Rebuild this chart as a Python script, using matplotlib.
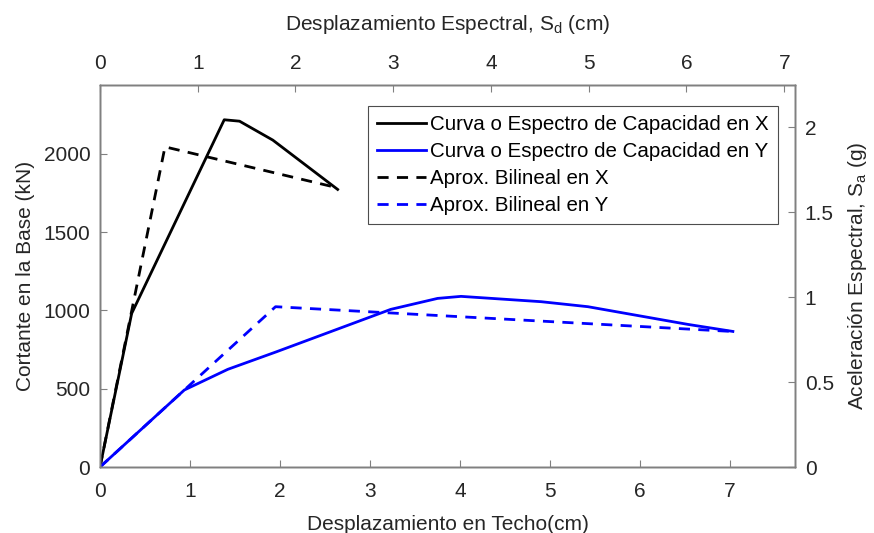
import matplotlib
matplotlib.use("Agg")
from matplotlib import pyplot as plt

plt.rcParams['font.family'] = ['Liberation Sans', 'DejaVu Sans']

# curva de capacidad en X
dx_cap = [0.0, 0.352, 1.38, 1.55, 1.92, 2.64]
vx_cap = [0.0, 981, 2218, 2209, 2088, 1773]
# aproximacion bilineal en X
dx_bil = [0.0, 0.722, 2.62]
vx_bil = [0.0, 2045, 1786]
# curva de capacidad en Y
dy_cap = [0.0, 0.937, 1.42, 1.96, 3.23, 3.75, 4.01, 4.9, 5.42, 5.94, 6.53, 7.03]
vy_cap = [0.0, 492, 624, 736, 1007, 1077, 1090, 1056, 1024, 971, 911, 866]
# aproximacion bilineal en Y
dy_bil = [0.0, 0.937, 1.95, 7.05]
vy_bil = [0.0, 492, 1024, 865]

gray = (0.15, 0.15, 0.15)
fs = 15

fig = plt.figure(figsize=(8.74, 5.33), dpi=100)
ax = fig.add_axes([0.1144, 0.1238, 0.7952, 0.7167])

ax.plot(dx_cap, vx_cap, color='k', lw=2, label='Curva o Espectro de Capacidad en X')
ax.plot(dy_cap, vy_cap, color='b', lw=2, label='Curva o Espectro de Capacidad en Y')
ax.plot(dx_bil, vx_bil, color='k', lw=2, ls=(0, (4, 3)), label='Aprox. Bilineal en X')
ax.plot(dy_bil, vy_bil, color='b', lw=2, ls=(0, (4, 3)), label='Aprox. Bilineal en Y')

ax.set_xlim(0, 7.72)
ax.set_ylim(0, 2440)
ax.set_xticks(range(0, 8))
ax.set_yticks([0, 500, 1000, 1500, 2000])
ax.set_xlabel('Desplazamiento en Techo(cm)', fontsize=fs, color=gray, labelpad=10)
ax.set_ylabel('Cortante en la Base (kN)', fontsize=fs, color=gray, labelpad=6)

# ejes secundarios: espectro de capacidad
axt = ax.twiny()
axt.set_xlim(0, 7.11)
axt.set_xticks(range(0, 8))
axt.set_xlabel(r'Desplazamiento Espectral, S$_\mathregular{d}$ (cm)', fontsize=fs, color=gray, labelpad=17)

axr = ax.twinx()
axr.set_ylim(0, 2.25)
axr.set_yticks([0, 0.5, 1, 1.5, 2])
axr.set_yticklabels(['0', '0.5', '1', '1.5', '2'])
axr.set_ylabel(r'Aceleración Espectral, S$_\mathregular{a}$ (g)', fontsize=fs, color=gray, labelpad=9)

for a in (ax, axt, axr):
    for s in a.spines.values():
        s.set_color((0.5, 0.5, 0.5))
        s.set_linewidth(1.0)
    a.tick_params(direction='in', length=5, width=0.8, colors=(0.5, 0.5, 0.5),
                  labelcolor=gray, labelsize=fs)
ax.tick_params(top=False, right=False)
ax.tick_params(axis='x', pad=11)
ax.tick_params(axis='y', pad=7)
axt.tick_params(bottom=False, pad=9)
axr.tick_params(left=False, pad=7)

h, l = ax.get_legend_handles_labels()
leg = axr.legend(h, l, loc='upper right', bbox_to_anchor=(0.975, 0.945),
                 prop={'size': 14.8}, frameon=True, fancybox=False, framealpha=1,
                 edgecolor=(0.3, 0.3, 0.3), handlelength=2.35, handletextpad=0.2,
                 borderpad=0.45, labelspacing=0.38, borderaxespad=0)
leg.get_frame().set_linewidth(0.8)
for t in leg.get_texts():
    t.set_color('k')

fig.savefig('out.png', dpi=100)
